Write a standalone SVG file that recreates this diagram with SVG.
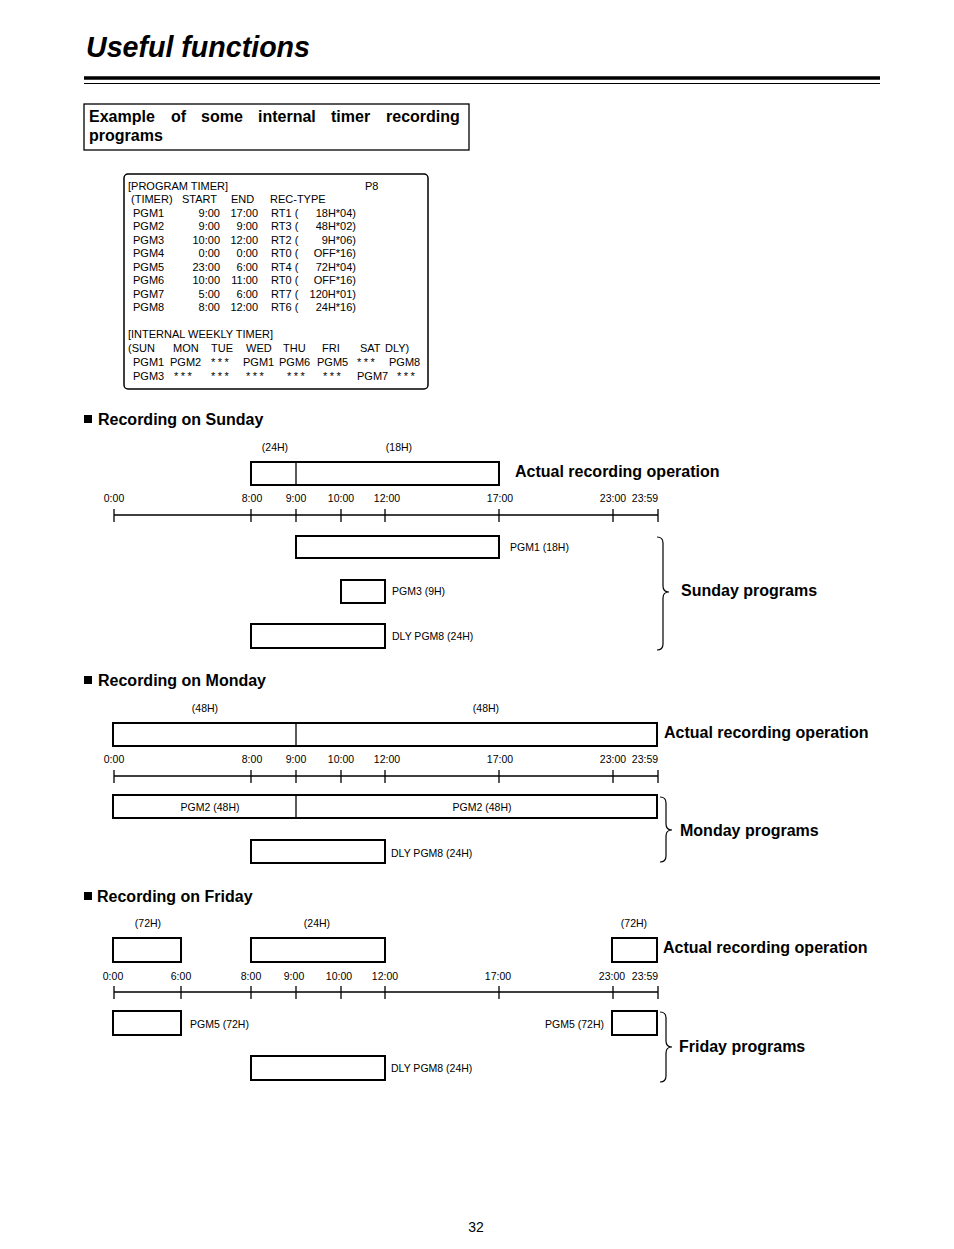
<svg xmlns="http://www.w3.org/2000/svg" width="954" height="1249" viewBox="0 0 954 1249">
<style>
text{font-family:"Liberation Sans",Arial,sans-serif;fill:#000}
.t{font-size:11px}
.s{font-size:10.5px}
.b{font-size:16px;font-weight:bold}
.r{text-anchor:end}
.m{text-anchor:middle}
.a{letter-spacing:2.5px}
.box{fill:#fff;stroke:#000;stroke-width:2}
.ln{stroke:#000;stroke-width:1.3;fill:none}
.br{stroke:#000;stroke-width:1.2;fill:none}
</style>
<rect width="954" height="1249" fill="#fff"/>
<g id="title">
<text x="86" y="57" style="font-size:30px;font-weight:bold;font-style:italic" textLength="224" lengthAdjust="spacingAndGlyphs">Useful functions</text>
<line x1="84" y1="78" x2="880" y2="78" stroke="#000" stroke-width="3.5"/>
<line x1="84" y1="83.5" x2="880" y2="83.5" stroke="#000" stroke-width="1.2"/>
</g>
<g id="example">
<rect x="84" y="104" width="385" height="46" fill="none" stroke="#000" stroke-width="1.3"/>
<text class="b" y="122"><tspan x="89">Example</tspan><tspan x="171">of</tspan><tspan x="201">some</tspan><tspan x="258">internal</tspan><tspan x="331">timer</tspan><tspan x="386">recording</tspan></text>
<text class="b" x="89" y="141">programs</text>
</g>
<g id="timer-box">
<rect x="124" y="174" width="304" height="215" rx="4" fill="none" stroke="#000" stroke-width="1.5"/>
<text class="t" x="128" y="190">[PROGRAM TIMER]</text>
<text class="t" x="365" y="190">P8</text>
<text class="t" x="131" y="203">(TIMER)</text>
<text class="t" x="182" y="203">START</text>
<text class="t" x="231" y="203">END</text>
<text class="t" x="270" y="203">REC-TYPE</text>
<g class="t">
<text x="133" y="217">PGM1</text><text class="r" x="220" y="217">9:00</text><text class="r" x="258" y="217">17:00</text><text x="271" y="217">RT1 (</text><text class="r" x="356" y="217">18H*04)</text>
<text x="133" y="230">PGM2</text><text class="r" x="220" y="230">9:00</text><text class="r" x="258" y="230">9:00</text><text x="271" y="230">RT3 (</text><text class="r" x="356" y="230">48H*02)</text>
<text x="133" y="244">PGM3</text><text class="r" x="220" y="244">10:00</text><text class="r" x="258" y="244">12:00</text><text x="271" y="244">RT2 (</text><text class="r" x="356" y="244">9H*06)</text>
<text x="133" y="257">PGM4</text><text class="r" x="220" y="257">0:00</text><text class="r" x="258" y="257">0:00</text><text x="271" y="257">RT0 (</text><text class="r" x="356" y="257">OFF*16)</text>
<text x="133" y="271">PGM5</text><text class="r" x="220" y="271">23:00</text><text class="r" x="258" y="271">6:00</text><text x="271" y="271">RT4 (</text><text class="r" x="356" y="271">72H*04)</text>
<text x="133" y="284">PGM6</text><text class="r" x="220" y="284">10:00</text><text class="r" x="258" y="284">11:00</text><text x="271" y="284">RT0 (</text><text class="r" x="356" y="284">OFF*16)</text>
<text x="133" y="298">PGM7</text><text class="r" x="220" y="298">5:00</text><text class="r" x="258" y="298">6:00</text><text x="271" y="298">RT7 (</text><text class="r" x="356" y="298">120H*01)</text>
<text x="133" y="311">PGM8</text><text class="r" x="220" y="311">8:00</text><text class="r" x="258" y="311">12:00</text><text x="271" y="311">RT6 (</text><text class="r" x="356" y="311">24H*16)</text>
</g>
<text class="t" x="128" y="338">[INTERNAL WEEKLY TIMER]</text>
<text class="t" y="352"><tspan x="128">(SUN</tspan><tspan x="173">MON</tspan><tspan x="211">TUE</tspan><tspan x="246">WED</tspan><tspan x="283">THU</tspan><tspan x="322">FRI</tspan><tspan x="360">SAT</tspan><tspan x="385">DLY)</tspan></text>
<text class="t" y="366"><tspan x="133">PGM1</tspan><tspan x="170">PGM2</tspan><tspan x="211" class="a">***</tspan><tspan x="243">PGM1</tspan><tspan x="279">PGM6</tspan><tspan x="317">PGM5</tspan><tspan x="357" class="a">***</tspan><tspan x="389">PGM8</tspan></text>
<text class="t" y="380"><tspan x="133">PGM3</tspan><tspan x="174" class="a">***</tspan><tspan x="211" class="a">***</tspan><tspan x="246" class="a">***</tspan><tspan x="287" class="a">***</tspan><tspan x="323" class="a">***</tspan><tspan x="357">PGM7</tspan><tspan x="397" class="a">***</tspan></text>
</g>

<g id="sunday-header">
<rect x="84" y="415" width="8" height="8"/>
<text class="b" x="98" y="425">Recording on Sunday</text>
</g>
<g id="sunday-actual">
<text class="s m" x="275" y="451">(24H)</text>
<text class="s m" x="399" y="451">(18H)</text>
<rect class="box" x="251" y="462" width="248" height="23"/>
<line class="ln" x1="296" y1="462" x2="296" y2="485" stroke-width="2"/>
<text class="b" x="515" y="477">Actual recording operation</text>
</g>
<g id="sunday-timeline">
<g class="s m">
<text x="114" y="502">0:00</text><text x="252" y="502">8:00</text><text x="296" y="502">9:00</text><text x="341" y="502">10:00</text><text x="387" y="502">12:00</text><text x="500" y="502">17:00</text><text x="613" y="502">23:00</text><text x="645" y="502">23:59</text>
</g>
<path class="ln" d="M114,515H658M114,509V522M251,509V522M296,509V522M341,509V522M385,509V522M499,509V522M613,509V522M658,509V522"/>
</g>
<g id="sunday-pgm1">
<rect class="box" x="296" y="536" width="203" height="22"/>
<text class="s" x="510" y="551">PGM1 (18H)</text>
</g>
<g id="sunday-pgm3">
<rect class="box" x="341" y="580" width="44" height="23"/>
<text class="s" x="392" y="595">PGM3 (9H)</text>
</g>
<g id="sunday-pgm8">
<rect class="box" x="251" y="624" width="134" height="24"/>
<text class="s" x="392" y="640">DLY PGM8 (24H)</text>
</g>
<g id="sunday-programs">
<path class="br" d="M657,537Q663,537 663,543V586Q663,592 669,592Q663,592 663,598V644Q663,650 657,650"/>
<text class="b" x="681" y="596">Sunday programs</text>
</g>

<g id="monday-header">
<rect x="84" y="676" width="8" height="8"/>
<text class="b" x="98" y="686">Recording on Monday</text>
</g>
<g id="monday-actual">
<text class="s m" x="205" y="712">(48H)</text>
<text class="s m" x="486" y="712">(48H)</text>
<rect class="box" x="113" y="723" width="544" height="23"/>
<line class="ln" x1="296" y1="723" x2="296" y2="746" stroke-width="2"/>
<text class="b" x="664" y="738">Actual recording operation</text>
</g>
<g id="monday-timeline">
<g class="s m">
<text x="114" y="763">0:00</text><text x="252" y="763">8:00</text><text x="296" y="763">9:00</text><text x="341" y="763">10:00</text><text x="387" y="763">12:00</text><text x="500" y="763">17:00</text><text x="613" y="763">23:00</text><text x="645" y="763">23:59</text>
</g>
<path class="ln" d="M114,776H658M114,770V783M251,770V783M296,770V783M341,770V783M385,770V783M499,770V783M613,770V783M658,770V783"/>
</g>
<g id="monday-pgm2">
<rect class="box" x="113" y="795" width="544" height="23"/>
<line class="ln" x1="296" y1="795" x2="296" y2="818" stroke-width="2"/>
<text class="s m" x="210" y="811">PGM2 (48H)</text>
<text class="s m" x="482" y="811">PGM2 (48H)</text>
</g>
<g id="monday-pgm8">
<rect class="box" x="251" y="840" width="134" height="23"/>
<text class="s" x="391" y="857">DLY PGM8 (24H)</text>
</g>
<g id="monday-programs">
<path class="br" d="M660,797Q666,797 666,803V824Q666,830 672,830Q666,830 666,836V856Q666,862 660,862"/>
<text class="b" x="680" y="836">Monday programs</text>
</g>

<g id="friday-header">
<rect x="84" y="892" width="8" height="8"/>
<text class="b" x="97" y="902">Recording on Friday</text>
</g>
<g id="friday-actual">
<text class="s m" x="148" y="927">(72H)</text>
<text class="s m" x="317" y="927">(24H)</text>
<text class="s m" x="634" y="927">(72H)</text>
<rect class="box" x="113" y="938" width="68" height="24"/>
<rect class="box" x="251" y="938" width="134" height="24"/>
<rect class="box" x="612" y="938" width="45" height="24"/>
<text class="b" x="663" y="953">Actual recording operation</text>
</g>
<g id="friday-timeline">
<g class="s m">
<text x="113" y="980">0:00</text><text x="181" y="980">6:00</text><text x="251" y="980">8:00</text><text x="294" y="980">9:00</text><text x="339" y="980">10:00</text><text x="385" y="980">12:00</text><text x="498" y="980">17:00</text><text x="612" y="980">23:00</text><text x="645" y="980">23:59</text>
</g>
<path class="ln" d="M114,992H658M114,986V999M181,986V999M251,986V999M296,986V999M341,986V999M385,986V999M499,986V999M613,986V999M658,986V999"/>
</g>
<g id="friday-pgm5a">
<rect class="box" x="113" y="1011" width="68" height="24"/>
<text class="s" x="190" y="1028">PGM5 (72H)</text>
</g>
<g id="friday-pgm5b">
<rect class="box" x="612" y="1011" width="45" height="24"/>
<text class="s r" x="604" y="1028">PGM5 (72H)</text>
</g>
<g id="friday-pgm8">
<rect class="box" x="251" y="1056" width="134" height="24"/>
<text class="s" x="391" y="1072">DLY PGM8 (24H)</text>
</g>
<g id="friday-programs">
<path class="br" d="M660,1012Q666,1012 666,1018V1041Q666,1047 672,1047Q666,1047 666,1053V1076Q666,1082 660,1082"/>
<text class="b" x="679" y="1052">Friday programs</text>
</g>
<text x="476" y="1232" class="m" style="font-size:14px">32</text>
</svg>
